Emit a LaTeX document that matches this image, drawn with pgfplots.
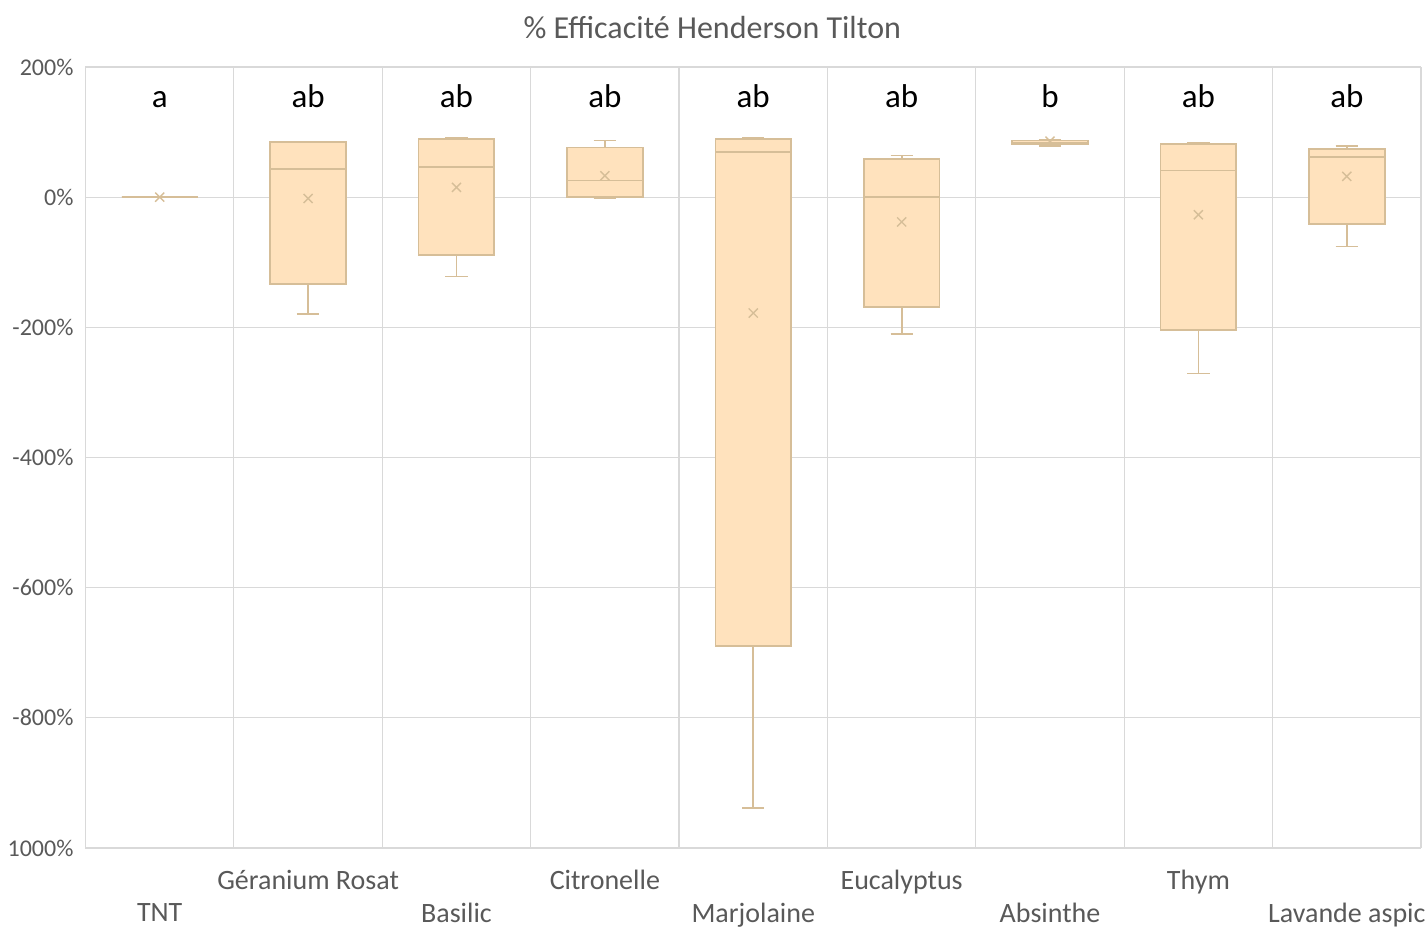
\documentclass[border=0pt]{standalone}
\usepackage{pgfplots}
\pgfplotsset{compat=1.18}
\usepgfplotslibrary{statistics}
\usepackage{fontspec}
\setmainfont{Carlito}
\definecolor{boxfill}{RGB}{255,226,189}
\definecolor{boxedge}{RGB}{214,190,152}
\definecolor{gridc}{RGB}{217,217,217}
\definecolor{txt}{RGB}{89,89,89}
\begin{document}
\begin{tikzpicture}
\begin{axis}[
  scale only axis, width=667.75pt, height=390.5pt,
  xmin=-0.5, xmax=8.5, ymin=-1000, ymax=200,
  ytick={-1000,-800,...,200},
  yticklabels={1000\%,-800\%,-600\%,-400\%,-200\%,0\%,200\%},
  yticklabel style={font=\fontsize{12}{14}\selectfont, text=txt, xshift=-2.5pt},
  xtick={1,3,5,7},
  xticklabels={Géranium Rosat,Citronelle,Eucalyptus,Thym},
  extra x ticks={0,2,4,6,8},
  extra x tick labels={TNT,Basilic,Marjolaine,Absinthe,Lavande aspic},
  extra x tick style={grid=none, xticklabel style={yshift=-16.5pt}},
  xticklabel style={font=\fontsize{14}{16}\selectfont, text=txt, yshift=-7.5pt},
  minor xtick={-0.5,0.5,1.5,2.5,3.5,4.5,5.5,6.5,7.5,8.5},
  xminorgrids, ymajorgrids,
  grid style={draw=gridc, line width=0.6pt},
  minor grid style={draw=gridc, line width=0.6pt},
  major tick length=0pt, minor tick length=0pt,
  tick style={draw=none},
  axis line style={draw=none},
  boxplot/draw direction=y,
  clip=false,
]
\pgfplotsset{bx/.style={fill=boxfill, draw=boxedge, line width=0.85pt, solid, mark=none}}
\addplot[bx, boxplot prepared={median=0, upper quartile=0, lower quartile=0, upper whisker=0, lower whisker=0, draw position=0, box extend=0.51, whisker extend=0.15}] coordinates {};
\addplot[bx, boxplot prepared={median=43.7, upper quartile=84.6, lower quartile=-133, upper whisker=84.6, lower whisker=-179, draw position=1, box extend=0.51, whisker extend=0.15}] coordinates {};
\addplot[bx, boxplot prepared={median=46, upper quartile=89.8, lower quartile=-89, upper whisker=91, lower whisker=-122, draw position=2, box extend=0.51, whisker extend=0.15}] coordinates {};
\addplot[bx, boxplot prepared={median=25.7, upper quartile=76.5, lower quartile=0, upper whisker=87, lower whisker=-2, draw position=3, box extend=0.51, whisker extend=0.15}] coordinates {};
\addplot[bx, boxplot prepared={median=69, upper quartile=89, lower quartile=-690, upper whisker=91, lower whisker=-938, draw position=4, box extend=0.51, whisker extend=0.15}] coordinates {};
\addplot[bx, boxplot prepared={median=0, upper quartile=59, lower quartile=-169, upper whisker=64, lower whisker=-210, draw position=5, box extend=0.51, whisker extend=0.15}] coordinates {};
\addplot[bx, boxplot prepared={median=84, upper quartile=87, lower quartile=81.6, upper whisker=87.5, lower whisker=79, draw position=6, box extend=0.51, whisker extend=0.15}] coordinates {};
\addplot[bx, boxplot prepared={median=41, upper quartile=82, lower quartile=-204, upper whisker=84, lower whisker=-271, draw position=7, box extend=0.51, whisker extend=0.15}] coordinates {};
\addplot[bx, boxplot prepared={median=61.5, upper quartile=74.5, lower quartile=-41, upper whisker=79, lower whisker=-76, draw position=8, box extend=0.51, whisker extend=0.15}] coordinates {};
\addplot[only marks, mark=x, mark size=3.2pt, draw=boxedge, mark options={line width=0.7pt, solid}] coordinates {
 (0,0) (1,-2) (2,15) (3,33) (4,-178) (5,-38) (6,86) (7,-27) (8,32)};
\addplot[only marks, mark=none, nodes near coords, point meta=explicit symbolic,
  every node near coord/.style={anchor=base, inner sep=0pt, font=\fontsize{16.5}{18}\selectfont, text=black}]
  table[meta=lab] {
x y lab
0 138 a
1 138 ab
2 138 ab
3 138 ab
4 138 ab
5 138 ab
6 138 b
7 138 ab
8 138 ab
};
\end{axis}
\node[anchor=center, font=\fontsize{16}{18}\selectfont, text=txt] at ([xshift=-20.5pt, yshift=19.5pt]current axis.north) {\% Efficacité Henderson Tilton};
\pgfresetboundingbox
\path[use as bounding box] ([xshift=-42.75pt, yshift=-42.5pt]current axis.south west) rectangle ([xshift=3pt, yshift=33.5pt]current axis.north east);
\end{tikzpicture}
\end{document}
